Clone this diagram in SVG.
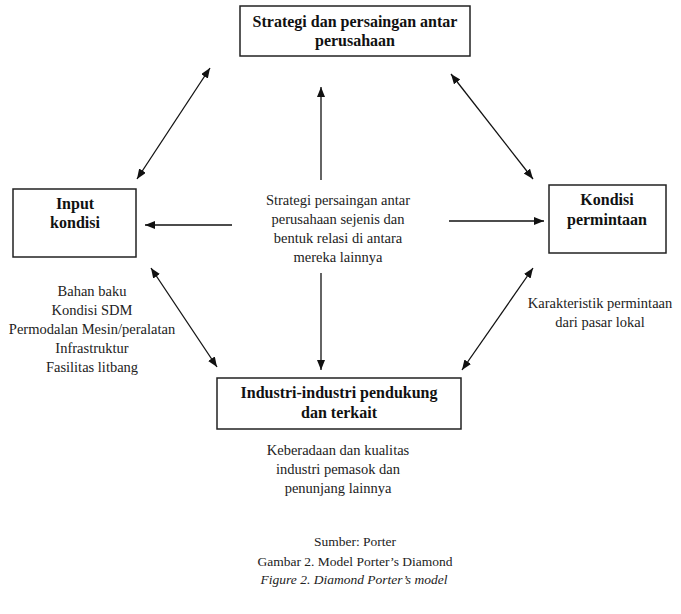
<svg xmlns="http://www.w3.org/2000/svg" width="681" height="614" viewBox="0 0 681 614">
<style>
.box{fill:#fff;stroke:#222;stroke-width:1.5}
.bt{font-family:"Liberation Serif",serif;font-weight:bold;font-size:16px;fill:#111;text-anchor:middle}
.t{font-family:"Liberation Serif",serif;font-size:14.5px;fill:#222;text-anchor:middle}
.c{font-family:"Liberation Serif",serif;font-size:13.5px;fill:#222;text-anchor:middle}
.ln{stroke:#111;stroke-width:1.3;fill:none}
.one{marker-end:url(#ah)}
.two{marker-end:url(#ah);marker-start:url(#ah)}
</style>
<defs>
<marker id="ah" markerUnits="userSpaceOnUse" markerWidth="11" markerHeight="9" refX="10" refY="4" orient="auto-start-reverse">
<path d="M0,0 L10,4 L0,8 Z" fill="#111"/>
</marker>
</defs>
<rect width="681" height="614" fill="#fff"/>
<g id="connectors">
<line class="ln one" x1="321" y1="180" x2="321" y2="87"/>
<line class="ln one" x1="321" y1="273" x2="321" y2="370"/>
<line class="ln one" x1="232" y1="225" x2="145" y2="225"/>
<line class="ln one" x1="449" y1="221" x2="544" y2="221"/>
<line class="ln two" x1="137" y1="179" x2="210" y2="68"/>
<line class="ln two" x1="451" y1="74" x2="533" y2="179"/>
<line class="ln two" x1="151" y1="268" x2="217" y2="367"/>
<line class="ln two" x1="533" y1="268" x2="462" y2="370"/>
</g>
<g id="strategi">
<rect class="box" x="240" y="6" width="230" height="50"/>
<text class="bt" x="355" y="27">Strategi dan persaingan antar</text>
<text class="bt" x="355" y="46">perusahaan</text>
</g>
<g id="input">
<rect class="box" x="13" y="189" width="123" height="68"/>
<text class="bt" x="75" y="209">Input</text>
<text class="bt" x="75" y="228">kondisi</text>
</g>
<g id="permintaan">
<rect class="box" x="549" y="185" width="117" height="68"/>
<text class="bt" x="607" y="205">Kondisi</text>
<text class="bt" x="607" y="225">permintaan</text>
</g>
<g id="industri">
<rect class="box" x="217" y="378" width="244" height="51"/>
<text class="bt" x="339" y="398">Industri-industri pendukung</text>
<text class="bt" x="339" y="418">dan terkait</text>
</g>
<g id="center-text">
<text class="t" x="338" y="205">Strategi persaingan antar</text>
<text class="t" x="338" y="224">perusahaan sejenis dan</text>
<text class="t" x="338" y="243">bentuk relasi di antara</text>
<text class="t" x="338" y="262">mereka lainnya</text>
</g>
<g id="input-text">
<text class="t" x="92" y="296">Bahan baku</text>
<text class="t" x="92" y="315">Kondisi SDM</text>
<text class="t" x="92" y="334">Permodalan Mesin/peralatan</text>
<text class="t" x="92" y="353">Infrastruktur</text>
<text class="t" x="92" y="372">Fasilitas litbang</text>
</g>
<g id="permintaan-text">
<text class="t" x="600" y="308">Karakteristik permintaan</text>
<text class="t" x="600" y="327">dari pasar lokal</text>
</g>
<g id="industri-text">
<text class="t" x="338" y="455">Keberadaan dan kualitas</text>
<text class="t" x="338" y="474">industri pemasok dan</text>
<text class="t" x="338" y="493">penunjang lainnya</text>
</g>
<g id="caption">
<text class="c" x="355" y="546">Sumber: Porter</text>
<text class="c" x="355" y="566">Gambar 2. Model Porter’s Diamond</text>
<text class="c" x="354" y="584" font-style="italic">Figure 2. Diamond Porter’s model</text>
</g>
</svg>
